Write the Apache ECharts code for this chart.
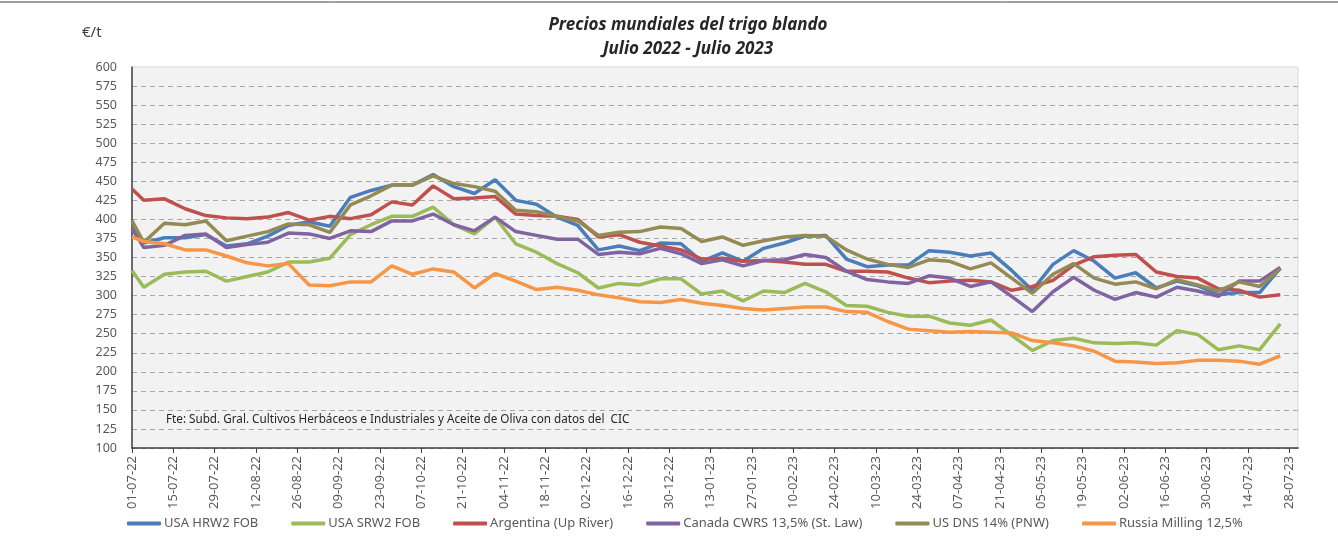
<!DOCTYPE html>
<html>
<head>
<meta charset="utf-8">
<title>Precios mundiales del trigo blando</title>
<script src="https://cdn.jsdelivr.net/npm/echarts@6/dist/echarts.min.js"></script>
<style>
  html, body { margin: 0; padding: 0; background: #ffffff; }
  #chart { width: 1338px; height: 546px; }
</style>
</head>
<body>
<div id="chart"></div>
<script>
// Fechas de cotización (dd-mm-yy)
const dates = [
  '01-07-22', '05-07-22', '12-07-22', '19-07-22', '26-07-22', '02-08-22', '09-08-22', '16-08-22',
  '23-08-22', '30-08-22', '06-09-22', '13-09-22', '20-09-22', '27-09-22', '04-10-22', '11-10-22',
  '18-10-22', '25-10-22', '01-11-22', '08-11-22', '15-11-22', '22-11-22', '29-11-22', '06-12-22',
  '13-12-22', '20-12-22', '27-12-22', '03-01-23', '10-01-23', '17-01-23', '24-01-23', '31-01-23',
  '07-02-23', '14-02-23', '21-02-23', '28-02-23', '07-03-23', '14-03-23', '21-03-23', '28-03-23',
  '04-04-23', '11-04-23', '18-04-23', '25-04-23', '02-05-23', '09-05-23', '16-05-23', '23-05-23',
  '30-05-23', '06-06-23', '13-06-23', '20-06-23', '27-06-23', '04-07-23', '11-07-23', '18-07-23',
  '25-07-23'
];

// Etiquetas del eje X (cada dos semanas)
const tickLabels = [
  '01-07-22', '15-07-22', '29-07-22', '12-08-22', '26-08-22', '09-09-22', '23-09-22', '07-10-22',
  '21-10-22', '04-11-22', '18-11-22', '02-12-22', '16-12-22', '30-12-22', '13-01-23', '27-01-23',
  '10-02-23', '24-02-23', '10-03-23', '24-03-23', '07-04-23', '21-04-23', '05-05-23', '19-05-23',
  '02-06-23', '16-06-23', '30-06-23', '14-07-23', '28-07-23'
];

// Precios €/t
const usaHrw2 = [
  390, 369, 376, 376, 380, 365, 368, 378, 392, 397, 391, 429, 438, 445, 445, 459,
  443, 434, 452, 425, 420, 403, 392, 360, 365, 359, 369, 368, 345, 356, 345, 362,
  369, 378, 379, 348, 338, 340, 340, 359, 357, 352, 356, 333, 307, 341, 359, 345,
  323, 330, 310, 319, 313, 301, 304, 304, 336
];
const usaSrw2 = [
  333, 311, 328, 331, 332, 319, 325, 331, 344, 344, 349, 380, 393, 404, 404, 416,
  393, 381, 403, 368, 357, 342, 330, 310, 316, 314, 322, 322, 302, 306, 293, 306,
  304, 316, 305, 287, 286, 278, 273, 273, 264, 261, 268, 248, 228, 241, 244, 238,
  237, 238, 235, 254, 249, 229, 234, 229, 263
];
const argentina = [
  440, 425, 427, 414, 405, 402, 401, 403, 409, 399, 404, 401, 406, 423, 419, 444,
  427, 428, 430, 407, 405, 404, 400, 377, 380, 370, 365, 360, 348, 349, 345, 346,
  344, 341, 341, 332, 332, 331, 323, 317, 319, 320, 318, 307, 312, 320, 340, 351,
  353, 354, 331, 325, 323, 309, 307, 298, 301
];
const canadaCwrs = [
  388, 363, 366, 379, 381, 363, 367, 370, 382, 381, 375, 385, 384, 398, 398, 407,
  393, 385, 403, 384, 379, 374, 374, 354, 357, 355, 362, 355, 342, 347, 339, 346,
  347, 354, 350, 332, 321, 318, 316, 326, 323, 312, 318, 299, 279, 305, 324, 307,
  295, 304, 298, 311, 306, 299, 319, 319, 337
];
const usDns = [
  398, 370, 395, 393, 398, 372, 378, 384, 394, 393, 383, 419, 431, 445, 445, 457,
  447, 443, 437, 412, 410, 404, 398, 379, 383, 384, 390, 388, 371, 377, 366, 372,
  377, 379, 378, 360, 348, 341, 337, 347, 345, 335, 343, 323, 303, 328, 342, 323,
  315, 318, 309, 321, 314, 306, 318, 312, 335
];
const russiaMilling = [
  377, 371, 368, 360, 360, 352, 343, 339, 342, 314, 313, 318, 318, 339, 328, 335,
  331, 310, 329, 319, 308, 311, 307, 301, 297, 292, 291, 295, 290, 287, 283, 281,
  283, 285, 285, 279, 278, 266, 256, 254, 252, 253, 252, 251, 241, 238, 234, 227,
  214, 213, 211, 212, 215, 215, 214, 210, 221
];

const seriesNames = [
  'USA HRW2 FOB', 'USA SRW2 FOB', 'Argentina (Up River)',
  'Canada CWRS 13,5% (St. Law)', 'US DNS 14% (PNW)', 'Russia Milling 12,5%'
];
const seriesValues = [usaHrw2, usaSrw2, argentina, canadaCwrs, usDns, russiaMilling];
const seriesColors = ['#4a7ebb', '#9bbb59', '#c0504d', '#8064a2', '#948a54', '#f79646'];

// días transcurridos desde el 01-07-22
function dayOf(s) {
  const [d, m, y] = s.split('-').map(Number);
  return Math.round((Date.UTC(2000 + y, m - 1, d) - Date.UTC(2022, 6, 1)) / 86400000);
}
const xDays = dates.map(dayOf);
const tickDays = tickLabels.map(dayOf);
const labelByDay = {};
tickLabels.forEach((t, i) => { labelByDay[tickDays[i]] = t; });

const FONT = 'Noto Sans';
const chart = echarts.init(document.getElementById('chart'), null, { renderer: 'canvas' });

const option = {
  animation: false,
  backgroundColor: '#ffffff',
  textStyle: { fontFamily: FONT },
  grid: {
    left: 132, right: 40, top: 67, bottom: 98,
    show: true, backgroundColor: '#f2f2f2', borderColor: '#d9d9d9', borderWidth: 1
  },
  legend: {
    left: 122, top: 512,
    itemWidth: 34, itemHeight: 4, itemGap: 33,
    icon: 'roundRect',
    textStyle: { fontFamily: FONT, fontSize: 13, color: '#595959', padding: [0, 0, 0, -2] },
    data: seriesNames
  },
  xAxis: {
    type: 'value', min: 0, max: 395,
    axisLine: { show: true, onZero: false, lineStyle: { color: '#404040', width: 1.5 } },
    axisTick: { show: true, customValues: tickDays, length: 5, lineStyle: { color: '#404040' } },
    axisLabel: {
      customValues: tickDays, rotate: 90, margin: 8,
      fontFamily: FONT, fontSize: 13, color: '#595959',
      formatter: v => labelByDay[v] || ''
    },
    splitLine: { show: false }
  },
  yAxis: {
    type: 'value', min: 100, max: 600, interval: 25,
    axisLine: { show: true, lineStyle: { color: '#404040', width: 1.5 } },
    axisTick: { show: false },
    axisLabel: { fontFamily: FONT, fontSize: 12.5, color: '#595959', margin: 15 },
    splitLine: { show: true, showMaxLine: false, lineStyle: { color: '#a6a6a6', type: [5, 4], width: 1 } }
  },
  series: seriesNames.map((name, k) => ({
    name,
    type: 'line',
    symbol: 'none',
    color: seriesColors[k],
    lineStyle: { width: 3.5, color: seriesColors[k] },
    data: xDays.map((d, i) => [d, seriesValues[k][i]])
  })),
  graphic: [
    { type: 'line', shape: { x1: 0, y1: 2, x2: 1338, y2: 2 }, style: { stroke: '#404040', lineWidth: 1 } },
    { type: 'text', left: 82, top: 25,
      style: { text: '€/t', fontFamily: FONT, fontSize: 15, fill: '#404040' } },
    { type: 'text', x: 688, y: 25,
      style: { text: 'Precios mundiales del trigo blando', textAlign: 'center', textVerticalAlign: 'middle',
               fontFamily: FONT, fontSize: 17, fontWeight: 'bold', fontStyle: 'italic', fill: '#262626' } },
    { type: 'text', x: 688, y: 49,
      style: { text: 'Julio 2022 - Julio 2023', textAlign: 'center', textVerticalAlign: 'middle',
               fontFamily: FONT, fontSize: 17, fontWeight: 'bold', fontStyle: 'italic', fill: '#262626' } },
    { type: 'text', x: 166, y: 420,
      style: { text: 'Fte: Subd. Gral. Cultivos Herbáceos e Industriales y Aceite de Oliva con datos del  CIC',
               textVerticalAlign: 'middle', fontFamily: FONT, fontSize: 11.7, fill: '#262626' } }
  ]
};

chart.setOption(option);
</script>
</body>
</html>
